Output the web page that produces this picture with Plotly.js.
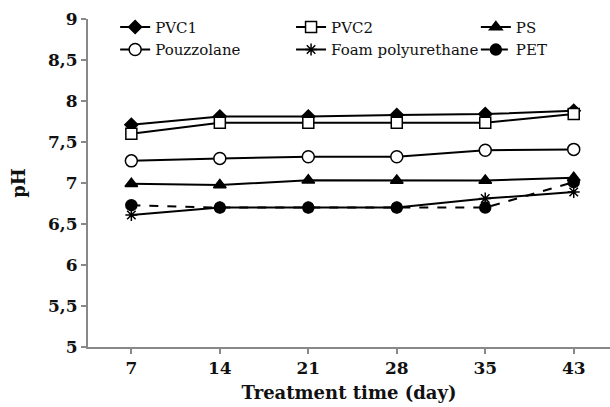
<!DOCTYPE html>
<html>
<head>
<meta charset="utf-8">
<script src="https://cdn.plot.ly/plotly-3.0.1.min.js"></script>
<style>html,body{margin:0;padding:0;background:#fff;}#chart{width:610px;height:407px;}</style>
</head>
<body>
<div id="chart"></div>
<script>
// Data
const days = ["7", "14", "21", "28", "35", "43"];
const pvc1 = [7.71, 7.81, 7.81, 7.83, 7.84, 7.88];
const pvc2 = [7.60, 7.735, 7.735, 7.735, 7.735, 7.84];
const pouzzolane = [7.27, 7.30, 7.32, 7.32, 7.40, 7.41];
const ps = [6.99, 6.975, 7.035, 7.03, 7.03, 7.065];
const foamPU = [6.61, 6.70, 6.70, 6.70, 6.81, 6.89];
const pet = [6.73, 6.70, 6.70, 6.70, 6.70, 7.01];
const yTickVals = [5, 5.5, 6, 6.5, 7, 7.5, 8, 8.5, 9];
const yTickText = ["5", "5,5", "6", "6,5", "7", "7,5", "8", "8,5", "9"];

const lineBase = {color: "#000", width: 2};
function tr(name, y, symbol, size, fill, dash, legend) {
  return {
    x: days, y: y, name: name, type: "scatter", mode: "lines+markers",
    line: Object.assign({}, lineBase, dash ? {dash: dash} : {}),
    marker: {symbol: symbol, size: size, color: fill, line: {color: "#000", width: 1.5}},
    legend: legend
  };
}

const traces = [
  tr("PVC1", pvc1, "diamond", 10, "#000", null, "legend"),
  tr("Pouzzolane", pouzzolane, "circle", 12, "#fff", null, "legend"),
  tr("PVC2", pvc2, "square", 11, "#fff", null, "legend2"),
  tr("Foam polyurethane", foamPU, "asterisk-open", 10, "#000", null, "legend2"),
  tr("PS", ps, "triangle-up", 11, "#000", null, "legend3"),
  tr("PET", pet, "circle", 11, "#000", "dash", "legend3")
];

const serif = "DejaVu Serif";
function leg(x) {
  return {x: x, xanchor: "left", y: 1.025, yanchor: "top", orientation: "v",
          font: {family: serif, size: 15, color: "#111"},
          bgcolor: "rgba(0,0,0,0)", borderwidth: 0, tracegroupgap: 0, itemwidth: 30};
}

const layout = {
  width: 610, height: 407,
  font: {family: serif, color: "#111"},
  margin: {l: 88, r: 0, t: 19, b: 60},
  paper_bgcolor: "#fff", plot_bgcolor: "#fff",
  showlegend: true,
  legend: leg(0.052),
  legend2: leg(0.389),
  legend3: leg(0.743),
  xaxis: {
    type: "category", range: [-0.49, 5.41],
    showline: true, linecolor: "#888", linewidth: 2,
    ticks: "outside", ticklen: 5, tickcolor: "#888", tickwidth: 2,
    showgrid: false, zeroline: false,
    tickfont: {family: serif, size: 17, weight: "bold", color: "#111"},
    title: {text: "Treatment time (day)", font: {family: serif, size: 18, weight: "bold", color: "#111"}, standoff: 9}
  },
  yaxis: {
    range: [5, 9], tickvals: yTickVals, ticktext: yTickText,
    showline: true, linecolor: "#888", linewidth: 2,
    ticks: "outside", ticklen: 5, tickcolor: "#888", tickwidth: 2,
    showgrid: false, zeroline: false,
    tickfont: {family: serif, size: 17, weight: "bold", color: "#111"},
    title: {text: "pH", font: {family: serif, size: 18, weight: "bold", color: "#111"}, standoff: 18}
  }
};

Plotly.newPlot("chart", traces, layout, {staticPlot: true, displayModeBar: false});
</script>
</body>
</html>
